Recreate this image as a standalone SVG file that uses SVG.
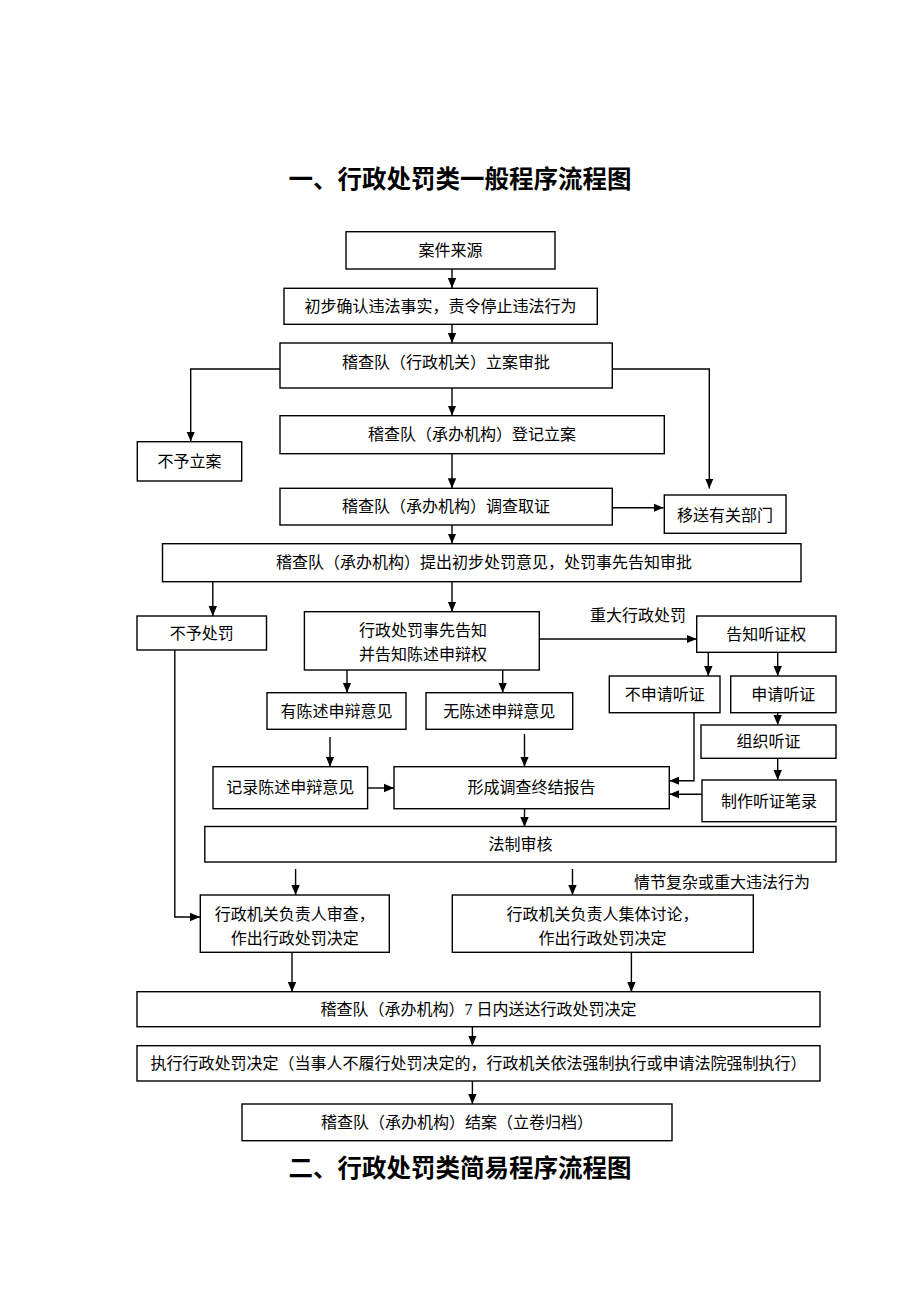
<svg xmlns="http://www.w3.org/2000/svg" width="920" height="1302" viewBox="0 0 920 1302">
<style>
.bg{fill:#ffffff}
.box{fill:#ffffff;stroke:#000000;stroke-width:1.4}
.t{font-family:"Liberation Serif","Noto Sans CJK SC",serif;font-size:16px;fill:#000;text-anchor:middle;dominant-baseline:central}
.lbl{font-family:"Liberation Serif","Noto Sans CJK SC",serif;font-size:16px;fill:#000;dominant-baseline:central}
.title{font-family:"Liberation Sans","Noto Sans CJK SC",sans-serif;font-size:24.5px;font-weight:bold;fill:#000;text-anchor:middle;dominant-baseline:central}
.c{fill:none;stroke:#000;stroke-width:1.4}
</style>
<defs>
<marker id="ah" markerUnits="userSpaceOnUse" markerWidth="10" markerHeight="10" viewBox="0 0 10 10" refX="10" refY="5" orient="auto">
<path d="M0,0.8 L10,5 L0,9.2 Z" fill="#000"/>
</marker>
</defs>
<rect class="bg" x="0" y="0" width="920" height="1302"/>

<text class="title" x="460" y="179">一、行政处罚类一般程序流程图</text>
<text class="title" x="460" y="1168">二、行政处罚类简易程序流程图</text>

<g id="connectors">
<line class="c" x1="452" y1="269" x2="452" y2="288" marker-end="url(#ah)"/>
<line class="c" x1="452" y1="324" x2="452" y2="343" marker-end="url(#ah)"/>
<line class="c" x1="452" y1="388" x2="452" y2="415.5" marker-end="url(#ah)"/>
<polyline class="c" points="280,369 190.7,369 190.7,441.5" marker-end="url(#ah)"/>
<polyline class="c" points="612,369 709.3,369 709.3,488.5" marker-end="url(#ah)"/>
<line class="c" x1="452" y1="453.7" x2="452" y2="488.3" marker-end="url(#ah)"/>
<line class="c" x1="612" y1="507.7" x2="663.5" y2="507.7" marker-end="url(#ah)"/>
<line class="c" x1="452" y1="525" x2="452" y2="543.5" marker-end="url(#ah)"/>
<line class="c" x1="212.8" y1="581.7" x2="212.8" y2="616" marker-end="url(#ah)"/>
<line class="c" x1="452" y1="581.7" x2="452" y2="611.7" marker-end="url(#ah)"/>
<polyline class="c" points="174.8,650 174.8,917 200,917" marker-end="url(#ah)"/>
<line class="c" x1="539.3" y1="639" x2="696.7" y2="639" marker-end="url(#ah)"/>
<line class="c" x1="708.3" y1="652.3" x2="708.3" y2="676" marker-end="url(#ah)"/>
<line class="c" x1="777.7" y1="652.3" x2="777.7" y2="676" marker-end="url(#ah)"/>
<line class="c" x1="347" y1="670" x2="347" y2="692.7" marker-end="url(#ah)"/>
<line class="c" x1="502.7" y1="670" x2="502.7" y2="692.7" marker-end="url(#ah)"/>
<line class="c" x1="330" y1="737" x2="330" y2="766.7" marker-end="url(#ah)"/>
<line class="c" x1="524.5" y1="734" x2="524.5" y2="766.7" marker-end="url(#ah)"/>
<line class="c" x1="777.7" y1="712.7" x2="777.7" y2="725" marker-end="url(#ah)"/>
<line class="c" x1="777.7" y1="758.3" x2="777.7" y2="780" marker-end="url(#ah)"/>
<polyline class="c" points="694,712.7 694,780.7 669.3,780.7" marker-end="url(#ah)"/>
<line class="c" x1="702" y1="794.3" x2="669.3" y2="794.3" marker-end="url(#ah)"/>
<line class="c" x1="367.6" y1="788" x2="394" y2="788" marker-end="url(#ah)"/>
<line class="c" x1="524.5" y1="808.7" x2="524.5" y2="827" marker-end="url(#ah)"/>
<line class="c" x1="295.6" y1="869" x2="295.6" y2="895" marker-end="url(#ah)"/>
<line class="c" x1="572.5" y1="869" x2="572.5" y2="895" marker-end="url(#ah)"/>
<line class="c" x1="292" y1="952" x2="292" y2="992" marker-end="url(#ah)"/>
<line class="c" x1="631.4" y1="952" x2="631.4" y2="992" marker-end="url(#ah)"/>
<line class="c" x1="472.4" y1="1026.7" x2="472.4" y2="1045.7" marker-end="url(#ah)"/>
<line class="c" x1="472.4" y1="1081" x2="472.4" y2="1104" marker-end="url(#ah)"/>
<text class="lbl" x="590" y="615">重大行政处罚</text>
<text class="lbl" x="634" y="882">情节复杂或重大违法行为</text>
</g>

<g id="n_source"><rect class="box" x="346" y="231.7" width="209" height="37.3"/><text class="t" x="450.5" y="250.3">案件来源</text></g>
<g id="n_confirm"><rect class="box" x="284" y="288.3" width="313.3" height="36"/><text class="t" x="440.6" y="306.3">初步确认违法事实，责令停止违法行为</text></g>
<g id="n_approve"><rect class="box" x="280" y="343" width="332.3" height="45"/><text class="t" x="446" y="362">稽查队（行政机关）立案审批</text></g>
<g id="n_noreg"><rect class="box" x="137.3" y="441.7" width="104.4" height="39.3"/><text class="t" x="189.5" y="461.3">不予立案</text></g>
<g id="n_register"><rect class="box" x="280" y="415.7" width="384.3" height="38"/><text class="t" x="472" y="434.7">稽查队（承办机构）登记立案</text></g>
<g id="n_investigate"><rect class="box" x="280" y="488.3" width="332.3" height="36.7"/><text class="t" x="446" y="506.7">稽查队（承办机构）调查取证</text></g>
<g id="n_transfer"><rect class="box" x="664.3" y="495" width="121.7" height="38.3"/><text class="t" x="725" y="515.5">移送有关部门</text></g>
<g id="n_propose"><rect class="box" x="162.5" y="543.7" width="638.5" height="38"/><text class="t" x="484" y="562.7">稽查队（承办机构）提出初步处罚意见，处罚事先告知审批</text></g>
<g id="n_nopenalty"><rect class="box" x="137" y="616" width="129.5" height="34"/><text class="t" x="201.7" y="633.5">不予处罚</text></g>
<g id="n_notify"><rect class="box" x="304.4" y="611.7" width="234.9" height="58.3"/><text class="t" x="423" y="630">行政处罚事先告知</text><text class="t" x="423" y="654">并告知陈述申辩权</text></g>
<g id="n_hearright"><rect class="box" x="696.7" y="616" width="139.3" height="36.3"/><text class="t" x="766.3" y="634.5">告知听证权</text></g>
<g id="n_nohear"><rect class="box" x="609.3" y="676" width="110.7" height="36.7"/><text class="t" x="664.7" y="694.5">不申请听证</text></g>
<g id="n_applyhear"><rect class="box" x="730.7" y="676" width="105.3" height="36.7"/><text class="t" x="783.3" y="694.5">申请听证</text></g>
<g id="n_haveopinion"><rect class="box" x="267" y="692.7" width="139" height="36.6"/><text class="t" x="336.5" y="711">有陈述申辩意见</text></g>
<g id="n_noopinion"><rect class="box" x="426" y="692.7" width="146.7" height="36.6"/><text class="t" x="499.3" y="711">无陈述申辩意见</text></g>
<g id="n_organize"><rect class="box" x="701" y="725" width="135" height="33.3"/><text class="t" x="768.5" y="741.7">组织听证</text></g>
<g id="n_record"><rect class="box" x="213" y="766.7" width="154.6" height="42"/><text class="t" x="290.3" y="787">记录陈述申辩意见</text></g>
<g id="n_report"><rect class="box" x="394" y="766.7" width="275.3" height="42"/><text class="t" x="531.6" y="787">形成调查终结报告</text></g>
<g id="n_minutes"><rect class="box" x="702" y="780" width="134" height="41.7"/><text class="t" x="769" y="801">制作听证笔录</text></g>
<g id="n_legal"><rect class="box" x="204.8" y="826.5" width="631.2" height="35.5"/><text class="t" x="520.4" y="844.5">法制审核</text></g>
<g id="n_review"><rect class="box" x="200.3" y="895" width="189" height="57.3"/><text class="t" x="294.8" y="914">行政机关负责人审查，</text><text class="t" x="294.8" y="938.5">作出行政处罚决定</text></g>
<g id="n_collective"><rect class="box" x="452.3" y="895" width="301" height="57.3"/><text class="t" x="602.5" y="914">行政机关负责人集体讨论，</text><text class="t" x="602.5" y="938.5">作出行政处罚决定</text></g>
<g id="n_deliver"><rect class="box" x="137" y="991.7" width="683" height="35"/><text class="t" x="478.5" y="1009.5">稽查队（承办机构）7 日内送达行政处罚决定</text></g>
<g id="n_execute"><rect class="box" x="137" y="1045.7" width="683" height="35.3"/><text class="t" x="478.5" y="1063.5">执行行政处罚决定（当事人不履行处罚决定的，行政机关依法强制执行或申请法院强制执行）</text></g>
<g id="n_close"><rect class="box" x="242" y="1104" width="430" height="36.7"/><text class="t" x="457" y="1122.5">稽查队（承办机构）结案（立卷归档）</text></g>
</svg>
